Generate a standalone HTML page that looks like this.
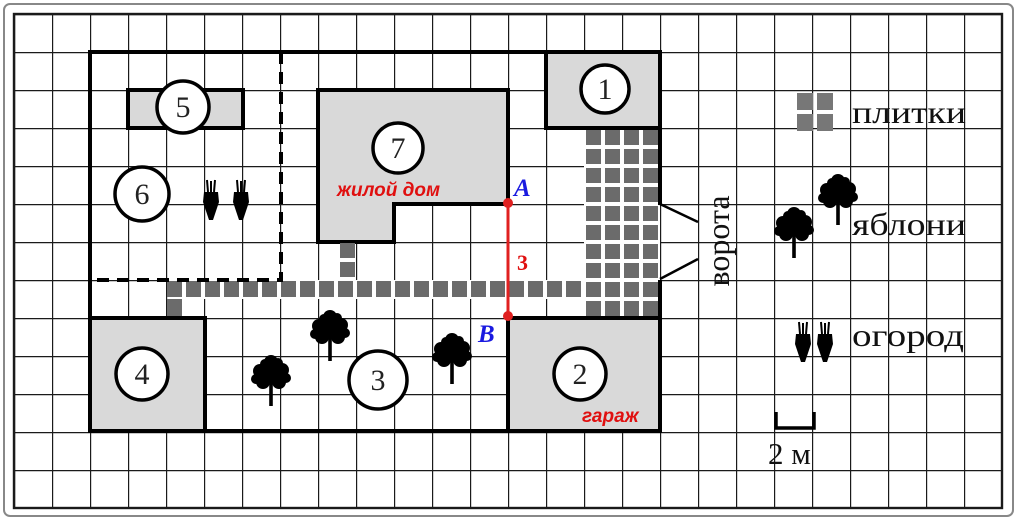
<!DOCTYPE html>
<html><head><meta charset="utf-8"><style>
html,body{margin:0;padding:0;background:#fff;}
svg{display:block;}
</style></head><body>
<svg width="1018" height="521" viewBox="0 0 1018 521" xmlns="http://www.w3.org/2000/svg">
<defs>
<pattern id="grid" x="14" y="14" width="38" height="38" patternUnits="userSpaceOnUse">
<path d="M0 0H38M0 0V38" stroke="#1a1a1a" stroke-width="2.4" fill="none"/>
</pattern>
<pattern id="tiles" x="584" y="128" width="19" height="19" patternUnits="userSpaceOnUse">
<rect x="2" y="2" width="15" height="15" fill="#6b6b6b"/>
</pattern>
<pattern id="tilesH" x="166" y="280" width="19" height="19" patternUnits="userSpaceOnUse">
<rect x="1" y="1" width="15" height="16" fill="#6b6b6b"/>
</pattern>
<g id="tree">
<circle cx="0" cy="0" r="10"/><circle cx="-11" cy="-3" r="7"/><circle cx="11" cy="-4" r="7"/>
<circle cx="-8" cy="8" r="7"/><circle cx="8" cy="8" r="7"/><circle cx="0" cy="-12" r="7"/>
<circle cx="-15" cy="5" r="5"/><circle cx="15" cy="4" r="5"/><circle cx="-6" cy="-10" r="5"/><circle cx="7" cy="-11" r="5"/>
<rect x="-1.8" y="8" width="3.6" height="24"/>
</g>
<g id="carrot">
<path d="M-7 -8 L7 -8 L8 2 L2 20 L-2 20 L-8 2 Z"/>
<path d="M-3 -8 L-4 -20 M0 -8 L0 -19 M3 -8 L4 -20" stroke="#000" stroke-width="2"/>
</g>
</defs>
<rect x="0" y="0" width="1018" height="521" fill="#fff"/>
<rect x="4" y="4" width="1009" height="512" rx="6" fill="#fff" stroke="#888" stroke-width="2"/>
<rect x="13" y="13" width="990" height="495" fill="url(#grid)"/>
<rect x="14" y="14" width="988" height="494" fill="none" stroke="#1a1a1a" stroke-width="2.4"/>

<!-- buildings -->
<path d="M318 90H508V204H394V242H318Z" fill="#d9d9d9" stroke="#000" stroke-width="4"/>
<rect x="546" y="52" width="114" height="76" fill="#d9d9d9" stroke="#000" stroke-width="4"/>
<rect x="128" y="90" width="115" height="38" fill="#d9d9d9" stroke="#000" stroke-width="4"/>
<rect x="90" y="318" width="115" height="113" fill="#d9d9d9" stroke="#000" stroke-width="4"/>
<rect x="508" y="318" width="152" height="113" fill="#d9d9d9" stroke="#000" stroke-width="4"/>

<!-- tiles -->
<rect x="584" y="130" width="76" height="186" fill="#fff"/>
<rect x="168" y="280" width="416" height="19" fill="#fff"/>
<rect x="584" y="128" width="76" height="190" fill="url(#tiles)"/>
<rect x="166" y="280" width="418" height="19" fill="url(#tilesH)"/>
<rect x="167" y="299" width="15" height="17" fill="#6b6b6b"/>
<rect x="340" y="243" width="15" height="15" fill="#6b6b6b"/>
<rect x="340" y="262" width="15" height="15" fill="#6b6b6b"/>

<!-- plot outline -->
<path d="M660 205V52H90V431H660V280" fill="none" stroke="#000" stroke-width="4"/>
<path d="M281 52V280H90" fill="none" stroke="#000" stroke-width="4" stroke-dasharray="12 8"/>
<path d="M660 204L698 222M660 279L698 259" stroke="#000" stroke-width="2.5"/>

<!-- circles -->
<g fill="#fff" stroke="#000" stroke-width="3.5">
<circle cx="605" cy="89" r="24"/>
<circle cx="183" cy="107" r="26"/>
<circle cx="142" cy="194" r="27"/>
<circle cx="398" cy="148" r="25"/>
<circle cx="142" cy="374" r="26"/>
<circle cx="378" cy="380" r="29"/>
<circle cx="580" cy="374" r="26"/>
</g>
<g font-family="Liberation Serif, serif" font-size="30" text-anchor="middle" fill="#222">
<text x="605" y="99">1</text>
<text x="183" y="117">5</text>
<text x="142" y="204">6</text>
<text x="398" y="158">7</text>
<text x="142" y="384">4</text>
<text x="378" y="390">3</text>
<text x="580" y="384">2</text>
</g>

<!-- trees -->
<g fill="#000">
<use href="#tree" x="271" y="374"/>
<use href="#tree" x="330" y="329"/>
<use href="#tree" x="452" y="352"/>
<use href="#tree" x="794" y="226"/>
<use href="#tree" x="838" y="193"/>
<use href="#carrot" x="211" y="200"/>
<use href="#carrot" x="241" y="200"/>
<use href="#carrot" x="803" y="342"/>
<use href="#carrot" x="825" y="342"/>
</g>

<!-- AB segment -->
<line x1="508" y1="203" x2="508" y2="316" stroke="#e02020" stroke-width="3"/>
<circle cx="508" cy="203" r="5" fill="#e02020"/>
<circle cx="508" cy="316" r="5" fill="#e02020"/>
<g font-family="Liberation Serif, serif" font-style="italic" font-weight="bold" font-size="25" fill="#1a1ae0">
<text x="514" y="196">A</text>
<text x="478" y="342">B</text>
</g>
<text x="517" y="270" font-family="Liberation Serif, serif" font-weight="bold" font-size="22" fill="#e01010">3</text>
<g font-family="Liberation Sans, sans-serif" font-style="italic" font-weight="bold" font-size="19" fill="#e01010">
<text x="337" y="196">жилой дом</text>
<text x="582" y="422">гараж</text>
</g>

<!-- legend -->
<rect x="797" y="93" width="16" height="17" fill="#777"/>
<rect x="817" y="93" width="16" height="17" fill="#777"/>
<rect x="797" y="114" width="16" height="17" fill="#777"/>
<rect x="817" y="114" width="16" height="17" fill="#777"/>
<g font-family="Liberation Serif, serif" font-size="32" fill="#111">
<text x="852" y="123" textLength="114" lengthAdjust="spacingAndGlyphs">плитки</text>
<text x="852" y="235" textLength="114" lengthAdjust="spacingAndGlyphs">яблони</text>
<text x="852" y="346" textLength="112" lengthAdjust="spacingAndGlyphs">огород</text>
<text x="768" y="464" font-size="31">2 м</text>
<text transform="translate(729,241) rotate(-90)" text-anchor="middle" font-size="32">ворота</text>
</g>
<path d="M776 412V428H814V412" fill="none" stroke="#000" stroke-width="3.5"/>
</svg>
</body></html>
